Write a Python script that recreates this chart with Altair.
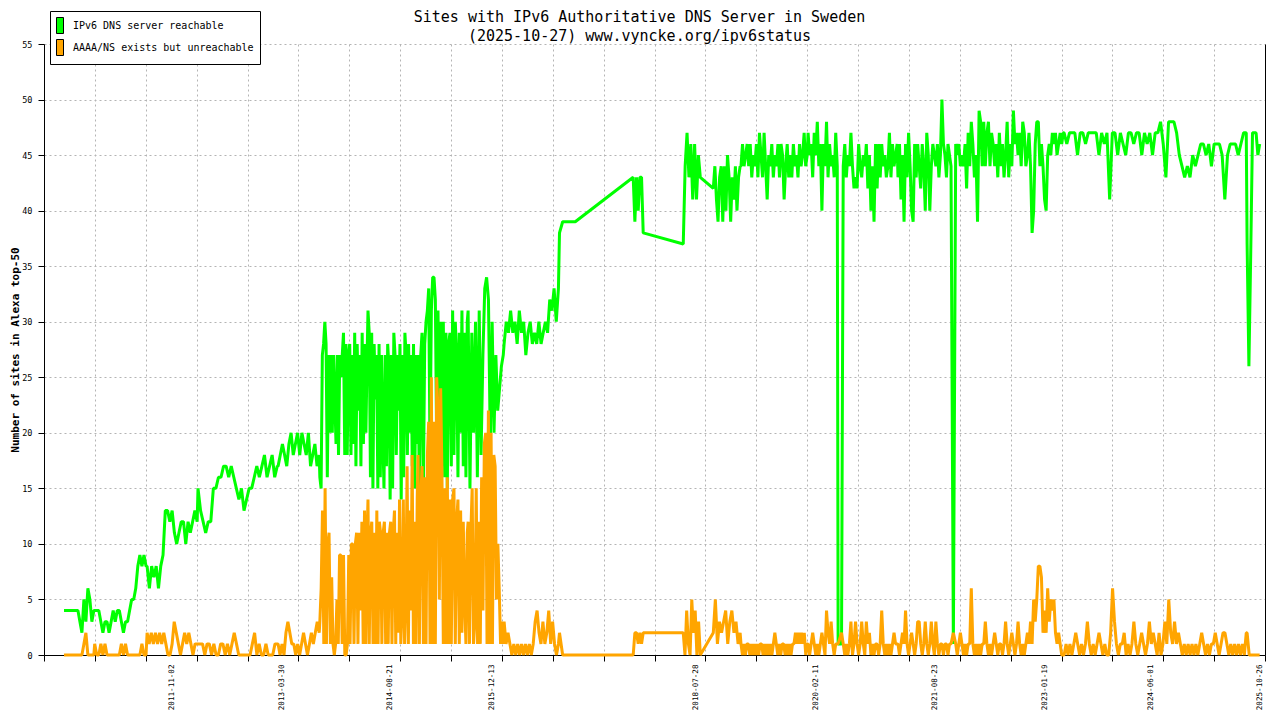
import altair as alt
import pandas as pd

MONO = "DejaVu Sans Mono"

SERIES = ["IPv6 DNS server reachable", "AAAA/NS exists but unreachable"]
COLORS = ["#00ff00", "#ffa500"]

TITLE = ["Sites with IPv6 Authoritative DNS Server in Sweden",
         "(2025-10-27) www.vyncke.org/ipv6status"]
Y_TITLE = "Number of sites in Alexa top-50"

X_DOMAIN = ["2010-03-13", "2025-11-21"]
Y_TICKS = list(range(0, 56, 5))
X_LABELS = ["2011-11-02", "2013-03-30", "2014-08-21", "2015-12-13", "2018-07-28",
            "2020-02-11", "2021-08-23", "2023-01-19", "2024-06-01", "2025-10-26"]

# measurement periods; the values of one period are spread evenly over it,
# consecutive periods are joined by a straight line (holes in the data)
SEGMENTS = [
    ("2010-06-15", "2010-11-02"),
    ("2010-11-06", "2011-07-05"),
    ("2011-07-10", "2012-03-01"),
    ("2012-03-05", "2013-03-12"),
    ("2013-03-16", "2013-09-25"),
    ("2013-09-28", "2014-05-08"),
    ("2014-05-12", "2014-12-29"),
    ("2015-01-02", "2015-08-21"),
    ("2015-08-25", "2016-02-06"),
    ("2016-02-10", "2016-10-22"),
    ("2016-10-27", "2017-01-09"),
    ("2017-10-08", "2017-11-24"),
    ("2018-05-31", "2018-08-19"),
    ("2018-10-19", "2019-02-22"),
    ("2019-02-26", "2020-01-03"),
    ("2020-01-07", "2020-05-23"),
    ("2020-05-27", "2020-06-12"),
    ("2020-06-20", "2021-02-28"),
    ("2021-03-04", "2021-11-08"),
    ("2021-11-19", "2021-11-19"),
    ("2021-11-30", "2023-04-19"),
    ("2023-04-23", "2025-08-25"),
    ("2025-08-29", "2025-10-27"),
]

REACHABLE = [
    [4, 4, 4, 4, 4, 4, 4, 4, 3, 2, 5, 3, 6, 5, 3, 4],
    [4, 4, 4, 3, 2, 3, 3, 2, 3, 4, 3, 4, 4, 3, 2, 3, 3, 4, 5, 5, 6, 8, 9, 8, 9, 8],
    [8, 6, 8, 7, 8, 6, 8, 9, 13, 13, 12, 13, 11, 10, 11, 12, 12, 10, 12, 11, 12, 13, 12],
    [15, 13, 12, 11, 12, 12, 15, 15, 16, 16, 17, 17, 16, 17, 16, 15, 14, 15, 13, 14, 15, 15,
     16, 17, 16, 17, 18, 16, 17, 18, 16, 17],
    [17, 18, 19, 18, 17, 19, 20, 18, 19, 20, 18, 20, 19, 18, 20, 17, 18, 19, 17, 18],
    [16, 15, 27, 28, 30, 28, 16, 27, 20, 27, 20, 27, 23, 19, 27, 18, 27, 25, 27, 29, 18, 28,
     18, 27, 28, 18, 27, 19, 29, 17, 28, 22, 27, 17, 29, 19, 28, 20, 27],
    [31, 29, 16, 29, 15, 28, 23, 27, 15, 28, 16, 27, 20, 15, 27, 17, 28, 26, 14, 27, 15, 29,
     27, 18, 27, 22, 28, 14, 27, 16, 29, 27, 18, 28, 20, 27, 17, 28, 15, 27, 19],
    [27, 14, 27, 29, 15, 28, 30, 31, 33, 18, 31, 34, 34, 32, 19, 31, 20, 30, 17, 30, 16, 29,
     15, 28, 29, 17, 31, 18, 30, 27, 16, 29, 20, 31, 17, 29, 16, 30],
    [31, 15, 29, 20, 30, 16, 31, 18, 27, 33, 34, 32, 19, 30, 20, 27, 22, 24, 26, 27],
    [28, 30, 29, 31, 29, 30, 28, 31, 29, 30, 27, 29, 30, 28, 29, 28, 30, 28, 29, 30, 29, 32,
     31, 33, 30, 33],
    [38, 39, 39, 39, 39, 39],
    [43, 39, 43, 40, 43, 43, 38],
    [37, 44, 47, 43, 46, 41, 46, 41, 45, 43],
    [42, 44, 41, 39, 43, 44, 39, 44, 40, 45, 43, 39, 43, 41, 44, 40, 43, 44],
    [44, 46, 44, 45, 46, 44, 46, 43, 45, 44, 46, 43, 47, 45, 43, 47, 44, 41, 45, 44, 46, 43,
     45, 44, 46, 43, 46, 45, 41, 44, 46, 43, 45, 43, 46, 44, 45, 43, 46, 44, 45, 47, 44, 45],
    [47, 45, 46, 43, 47, 45, 48, 44, 46, 40, 46, 44, 48, 43, 46, 44, 45, 43, 47, 44],
    [1, 1],
    [44, 46, 43, 45, 44, 47, 44, 42, 43, 42, 46, 44, 43, 45, 44, 46, 42, 45, 40, 44, 39, 46,
     42, 46, 43, 46, 44, 45, 43, 44, 47, 43, 46, 44, 45, 46],
    [43, 46, 41, 45, 39, 46, 43, 47, 44, 40, 39, 46, 43, 46, 44, 42, 46, 44, 40, 47, 45, 40,
     44, 46, 45, 44, 46, 43, 45, 50, 46, 45, 43, 46, 45, 44],
    [1],
    [46, 45, 46, 44, 45, 44, 46, 42, 47, 44, 48, 46, 43, 45, 39, 49, 48, 44, 48, 44, 47, 48,
     44, 47, 46, 44, 46, 43, 47, 44, 46, 43, 45, 48, 43, 46, 44, 49, 46, 47, 45, 47, 44, 48,
     47, 44, 45, 47, 44, 38, 40, 46, 48, 48, 44, 46, 44, 41, 40, 45, 46, 45, 47, 46, 47, 45,
     46, 47, 46, 47],
    [47, 46, 47, 47, 47, 45, 47, 47, 46, 47, 47, 47, 47, 45, 47, 46, 47, 41, 47, 47, 45, 47,
     46, 45, 47, 47, 46, 47, 47, 45, 47, 46, 47, 45, 47, 47, 48, 46, 43, 48, 48, 48, 47, 45,
     44, 43, 44, 43, 45, 44, 45, 46, 46, 45, 46, 44, 46, 46, 46, 45, 41, 45, 46, 46, 46, 45,
     46, 47, 47],
    [37, 26, 36, 47, 47, 47, 45, 46],
]

UNREACHABLE = [
    [0, 0, 0, 0, 0, 0, 0, 0, 0, 0, 1, 2, 0, 0, 0, 0],
    [1, 0, 0, 1, 0, 1, 0, 0, 0, 0, 0, 0, 0, 1, 0, 1, 0, 0, 0, 0, 0, 0, 0, 1, 0, 0],
    [2, 1, 2, 1, 2, 1, 2, 1, 2, 1, 0, 0, 1, 3, 2, 1, 0, 1, 2, 1, 2, 1, 0, 1, 1],
    [1, 1, 1, 0, 1, 1, 0, 1, 0, 0, 1, 1, 0, 1, 0, 1, 2, 1, 0, 0, 0, 0, 0, 0, 1, 2, 0, 1, 0,
     0, 1, 0, 0, 0, 1, 1],
    [1, 0, 1, 0, 2, 3, 2, 1, 1, 0, 1, 0, 1, 2, 1, 0, 1, 2, 1, 2, 3, 2],
    [3, 6, 13, 1, 15, 1, 10, 11, 1, 7, 1, 0, 1, 5, 1, 9, 9, 1, 9, 0, 0, 1, 9, 1, 10, 10, 1,
     10, 11, 1, 11, 4, 12, 1, 13, 1, 11],
    [14, 1, 11, 12, 1, 11, 1, 13, 1, 12, 11, 1, 11, 12, 1, 11, 1, 11, 12, 1, 11, 13, 1, 11,
     2, 14, 1, 4, 14, 1, 5, 17, 1, 13, 4, 18, 1, 12, 1, 14],
    [18, 1, 14, 17, 1, 16, 1, 18, 21, 1, 25, 1, 21, 1, 25, 22, 5, 24, 16, 1, 15, 1, 16, 1,
     14, 1, 14, 15, 1, 12, 14, 1, 13, 2, 12, 5, 1, 11],
    [12, 1, 11, 15, 1, 3, 15, 1, 12, 1, 16, 4, 19, 20, 1, 22, 1, 20, 1, 18, 17, 5, 10, 6, 1,
     3, 1],
    [3, 1, 2, 1, 0, 1, 0, 1, 0, 1, 0, 1, 0, 1, 0, 1, 3, 4, 2, 1, 3, 1, 2, 4, 1, 3, 1, 0, 1],
    [2, 0, 0, 0, 0, 0],
    [0, 2, 2, 1, 2, 1, 2],
    [2, 0, 4, 1, 0, 5, 2, 4, 0, 3, 0],
    [2, 5, 1, 3, 2, 3, 4, 1, 3, 4, 2, 3, 1, 2],
    [1, 0, 1, 0, 1, 1, 0, 1, 0, 1, 0, 1, 0, 1, 1, 0, 1, 0, 1, 0, 1, 0, 1, 2, 1, 0, 1, 0, 1,
     1, 0, 1, 0, 1, 0, 1, 1, 2, 1, 2, 1, 2, 1, 2, 0, 1],
    [1, 0, 1, 2, 1, 0, 1, 0, 1, 2, 1, 0, 4, 2, 1, 3, 1, 0, 1, 1],
    [1, 2],
    [1, 0, 1, 0, 1, 3, 0, 1, 3, 1, 0, 1, 3, 1, 0, 3, 1, 2, 0, 1, 0, 1, 1, 0, 1, 4, 1, 0, 1,
     0, 1, 0, 1, 2, 1, 1],
    [1, 0, 1, 2, 1, 4, 1, 0, 1, 2, 1, 0, 1, 3, 3, 1, 0, 1, 3, 1, 0, 1, 3, 1, 0, 3, 1, 0, 1,
     1, 0, 1, 1, 0, 1, 1],
    [2],
    [1, 0, 1, 2, 1, 0, 1, 0, 1, 1, 6, 1, 0, 1, 0, 1, 0, 1, 1, 3, 1, 0, 1, 0, 1, 2, 1, 0, 1,
     1, 0, 1, 3, 1, 0, 1, 2, 1, 0, 1, 3, 1, 0, 1, 0, 1, 2, 1, 3, 1, 5, 3, 5, 8, 8, 7, 2, 4,
     2, 6, 3, 5, 4, 5, 2, 1, 2, 1, 0, 0],
    [0, 1, 0, 1, 0, 1, 2, 1, 0, 1, 0, 1, 3, 1, 0, 1, 0, 1, 2, 1, 0, 1, 0, 0, 2, 6, 3, 1, 0,
     1, 1, 2, 0, 1, 0, 1, 3, 1, 0, 1, 2, 1, 0, 1, 3, 1, 2, 1, 0, 2, 0, 1, 3, 1, 5, 2, 1, 3,
     1, 2, 1, 0, 1, 0, 1, 0, 1, 0, 1, 0, 1, 2, 1, 0, 1, 0, 1, 1, 2, 1, 0, 1, 2, 2, 1, 0, 1,
     0, 1, 0, 1, 0, 1, 0, 2],
    [2, 0, 0, 0, 0, 0, 0],
]


def ms(day):
    return int(pd.Timestamp(day).value // 10**6)


def series_frame(values_per_segment, name):
    rows = []
    for (start, end), values in zip(SEGMENTS, values_per_segment):
        days = pd.date_range(start, end, periods=len(values))
        rows += [{"date": int(d.value // 10**6), "sites": v, "series": name}
                 for d, v in zip(days, values)]
    return pd.DataFrame(rows)


W, H = 1221, 611
grid_days = [int(d.value // 10**6) for d in pd.date_range(X_DOMAIN[0], X_DOMAIN[1], periods=25)]

x_scale = alt.Scale(domain=[ms(X_DOMAIN[0]), ms(X_DOMAIN[1])])
y_scale = alt.Scale(domain=[0, 55])

reachable = alt.Chart(series_frame(REACHABLE, SERIES[0])).mark_line(
    color=COLORS[0], strokeWidth=3, strokeJoin="bevel"
).encode(
    x=alt.X('date:T', scale=x_scale, title=None,
            axis=alt.Axis(values=grid_days, labels=False, ticks=True, tickSize=6,
                          grid=True, domain=True, orient='bottom')),
    y=alt.Y('sites:Q', scale=y_scale, title=Y_TITLE,
            axis=alt.Axis(values=Y_TICKS, grid=True, tickSize=6, labelPadding=6,
                          labelFontSize=8.5, labelOverlap=False,
                          titleFont=MONO, titleFontWeight='bold', titleFontSize=11,
                          titlePadding=1.5, titleColor='black')),
)

unreachable = alt.Chart(series_frame(UNREACHABLE, SERIES[1])).mark_line(
    color=COLORS[1], strokeWidth=3, strokeJoin="bevel"
).encode(
    x=alt.X('date:T', scale=x_scale, title=None,
            axis=alt.Axis(values=[ms(d) for d in X_LABELS],
                          labelExpr="utcFormat(datum.value, '%Y-%m-%d')",
                          labelAngle=270, labelFontSize=7.6, labelPadding=9,
                          labelFlush=False, labelOverlap=False,
                          ticks=False, tickSize=0, grid=False, domain=False, orient='bottom')),
    y=alt.Y('sites:Q', scale=y_scale, title=None,
            axis=alt.Axis(orient='right', labels=False, ticks=False, grid=False, domain=True)),
)

# invisible marks that only carry the key
key = alt.Chart(pd.DataFrame({"series": SERIES})).mark_square(size=256).encode(
    fill=alt.Fill('series:N', scale=alt.Scale(domain=SERIES, range=COLORS), legend=alt.Legend(
        title=None, orient='none', legendX=6, legendY=-33, direction='vertical',
        symbolType='M-1,-1H-0.125V1H-1Z', symbolSize=256,
        symbolStrokeColor='black', symbolStrokeWidth=1, symbolOpacity=1,
        labelFont=MONO, labelFontSize=10, labelColor='black', labelOffset=0,
        labelLimit=400, rowPadding=1, padding=6, strokeColor='black', fillColor='white')),
    opacity=alt.value(0),
)

chart = alt.layer(reachable, unreachable, key).resolve_axis(
    x='independent', y='independent'
).properties(
    width=W,
    height=H,
    title=alt.Title(TITLE, font=MONO, fontSize=15, fontWeight='normal', lineHeight=19,
                    anchor='middle', dx=-15, dy=30, offset=-3, color='black'),
    autosize=alt.AutoSizeParams(type='none'),
    padding={"left": 36, "top": 36, "right": 7, "bottom": 60},
).configure_axis(
    domainColor='black',
    tickColor='black',
    labelColor='black',
    labelFont=MONO,
    gridColor='#b4b4b4',
    gridDash=[2, 3],
).configure_view(
    strokeWidth=0
)

chart.save("out.html", embed_options={"renderer": "svg", "actions": False})
